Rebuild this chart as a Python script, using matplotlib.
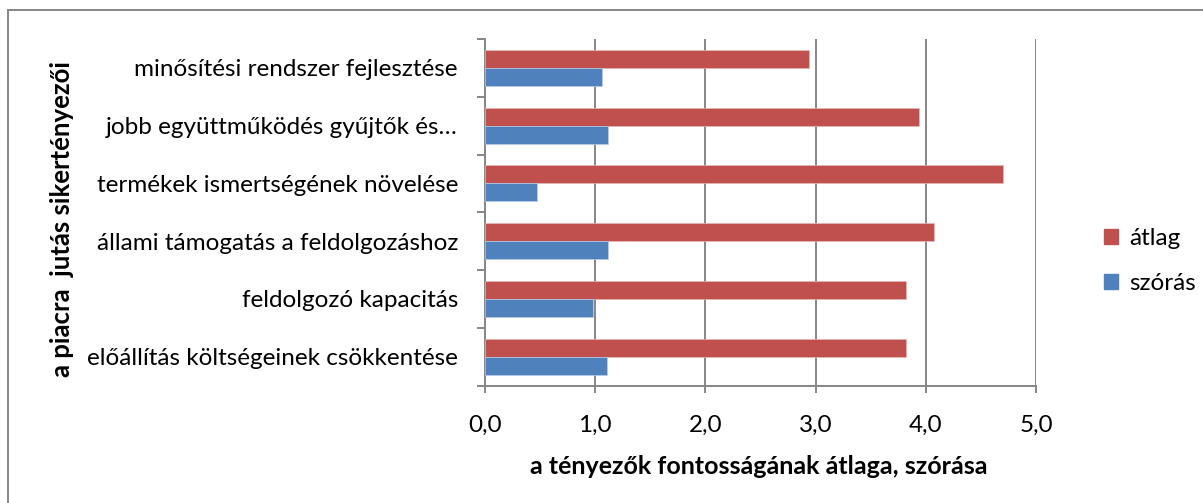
import matplotlib
matplotlib.use("Agg")
import matplotlib.pyplot as plt
from matplotlib.patches import Rectangle
from matplotlib.lines import Line2D
import numpy as np

categories = [
    "minősítési rendszer fejlesztése",
    "jobb együttműködés gyűjtők és…",
    "termékek ismertségének növelése",
    "állami támogatás a feldolgozáshoz",
    "feldolgozó kapacitás",
    "előállítás költségeinek csökkentése",
]
atlag = [2.94, 3.94, 4.70, 4.07, 3.82, 3.82]
szoras = [1.06, 1.12, 0.47, 1.12, 0.98, 1.11]
xticks = [0, 1, 2, 3, 4, 5]
xticklabels = ["0,0", "1,0", "2,0", "3,0", "4,0", "5,0"]

RED = "#C0504D"
BLUE = "#4F81BD"
GRID = "#868686"
FONT = ["Lato", "DejaVu Sans"]
plt.rcParams["font.family"] = FONT
FS = 17.5

W, H = 1203, 503
fig = plt.figure(figsize=(W / 100, H / 100), dpi=100)
fig.patch.set_facecolor("white")

# plot area in pixels
x0, x1 = 485, 1036
y0, y1 = 39, 385.5
ax = fig.add_axes([x0 / W, 1 - y1 / H, (x1 - x0) / W, (y1 - y0) / H])

n = len(categories)
pos = np.arange(n)[::-1]  # first category on top
bh = 0.31
ax.barh(pos + bh / 2, atlag, height=bh, color=RED, edgecolor="#E6B9B8", linewidth=0.5, zorder=3)
ax.barh(pos - bh / 2, szoras, height=bh, color=BLUE, edgecolor="#B9CDE5", linewidth=0.5, zorder=3)

ax.set_xlim(0, 5)
ax.set_ylim(-0.5, n - 0.5)
ax.set_xticks(xticks)
ax.set_xticklabels(xticklabels, fontsize=FS)
ax.xaxis.grid(True, color=GRID, linewidth=1.4, zorder=0)
ax.set_axisbelow(True)

# y ticks at category boundaries, labels at centres
ax.set_yticks(np.arange(-0.5, n, 1.0))
ax.set_yticklabels([])
ax.set_yticks(pos, minor=True)
ax.set_yticklabels(categories, minor=True, fontsize=FS)
ax.tick_params(axis="y", which="minor", length=0, pad=19.5)
ax.tick_params(axis="y", which="major", length=5.8, width=1.4, color=GRID, direction="out")
ax.tick_params(axis="x", length=5, width=1.4, color=GRID, direction="out", pad=16)

for side in ["top", "right"]:
    ax.spines[side].set_visible(False)
for side in ["left", "bottom"]:
    ax.spines[side].set_color(GRID)
    ax.spines[side].set_linewidth(1.4)

# axis titles
fig.text(62 / W, 1 - 219 / H, "a piacra  jutás sikertényezői", rotation=90,
         ha="center", va="center", fontsize=18.5, fontweight="bold")
fig.text(759 / W, 1 - 466 / H, "a tényezők fontosságának átlaga, szórása",
         ha="center", va="center", fontsize=18, fontweight="bold")

# legend
handles = [Rectangle((0, 0), 1, 1, color=RED), Rectangle((0, 0), 1, 1, color=BLUE)]
fig.legend(handles, ["átlag", "szórás"], loc="center left",
           bbox_to_anchor=(1082 / W, 1 - 261 / H), frameon=False, fontsize=FS,
           handlelength=0.6, handleheight=0.6, handletextpad=0.45, labelspacing=1.0)

# outer chart border (top and left visible)
fig.add_artist(Line2D([7.5 / W, 7.5 / W], [0, 1 - 9.5 / H], transform=fig.transFigure,
                      color=GRID, linewidth=1.4))
fig.add_artist(Line2D([7.5 / W, 1], [1 - 9.5 / H, 1 - 9.5 / H], transform=fig.transFigure,
                      color=GRID, linewidth=1.4))

fig.savefig("out.png", dpi=100)
